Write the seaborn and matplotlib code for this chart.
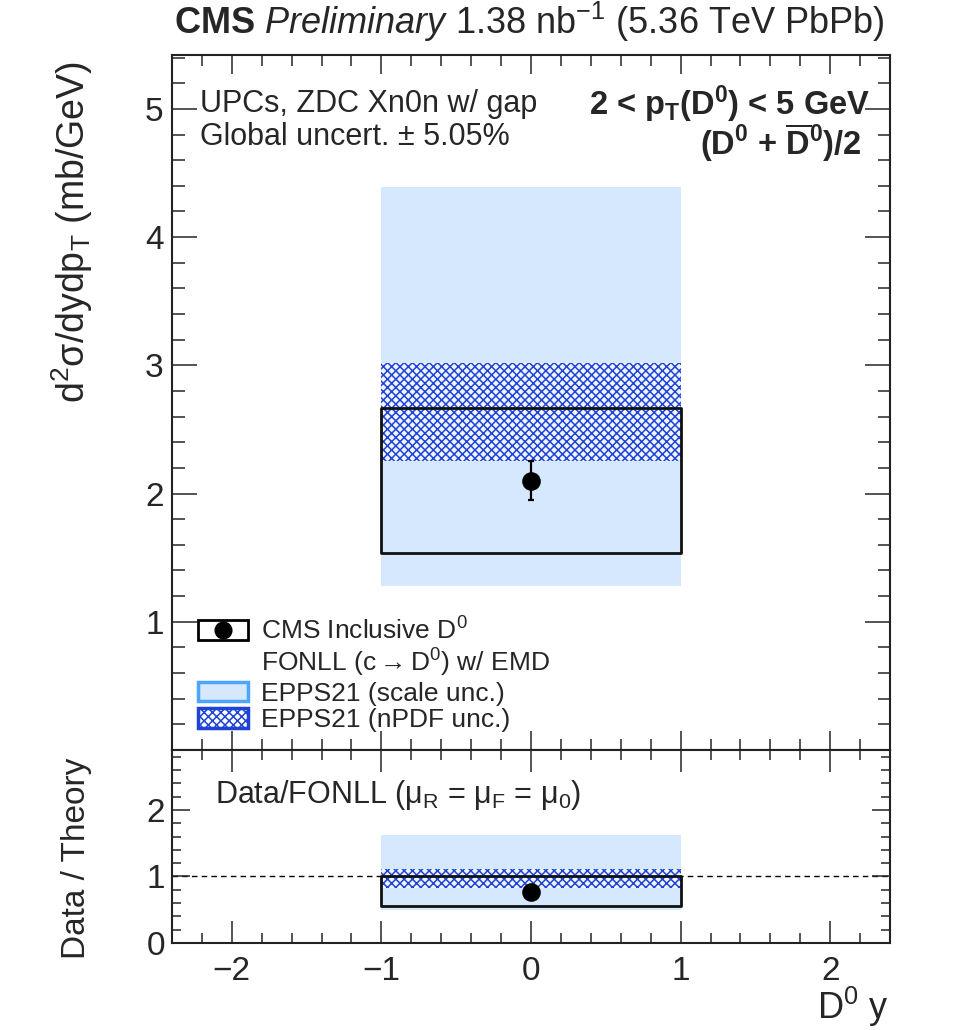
import matplotlib
matplotlib.use("Agg")
import matplotlib.pyplot as plt
import seaborn as sns
import pandas as pd
from matplotlib.patches import Patch
from matplotlib.lines import Line2D
from matplotlib.legend_handler import HandlerTuple
from matplotlib.ticker import MultipleLocator

# one rapidity bin, |y| < 1
bin_edges = [-1.0, 1.0]
bin_center = [0.0]

# upper panel: d2sigma/dydpT (mb/GeV)
xsec = [2.10]
xsec_stat = [0.15]
xsec_syst_lo = [1.54]
xsec_syst_hi = [2.67]
scale_lo = [1.28]
scale_hi = [4.39]
npdf_lo = [2.25]
npdf_hi = [3.02]

# lower panel: data / FONLL
ratio = [0.77]
ratio_stat = [0.06]
ratio_syst_lo = [0.56]
ratio_syst_hi = [1.00]
ratio_scale_lo = [0.49]
ratio_scale_hi = [1.63]
ratio_npdf_lo = [0.83]
ratio_npdf_hi = [1.11]

legend_labels = [r"CMS Inclusive D$^{0}$",
                 r"FONLL (c$\rightarrow$D$^{0}$) w/ EMD",
                 "EPPS21 (scale unc.)",
                 "EPPS21 (nPDF unc.)"]

scale_fill = "#d5e8fd"
scale_edge = "#4ca5ff"
hatch_col = "#1f43d6"

sns.set_theme(style="ticks")
plt.rcParams["font.family"] = ["Liberation Sans", "DejaVu Sans"]
plt.rcParams["mathtext.fontset"] = "custom"
plt.rcParams["mathtext.rm"] = "Liberation Sans"
plt.rcParams["mathtext.it"] = "Liberation Sans:italic"
plt.rcParams["mathtext.bf"] = "Liberation Sans:bold"
plt.rcParams["hatch.linewidth"] = 1.1
plt.rcParams["axes.linewidth"] = 1.5

W, H = 958, 1030
def fx(px):
    return px / W
def fy(py):
    return 1 - py / H

fig = plt.figure(figsize=(9.58, 10.3), dpi=100)
ax1 = fig.add_axes([fx(172), fy(750), (890 - 172) / W, (750 - 55) / H])
ax2 = fig.add_axes([fx(172), fy(943), (890 - 172) / W, (943 - 750) / H])


def draw_panel(ax, lo_s, hi_s, lo_n, hi_n, lo_b, hi_b, val, err):
    ax.fill_between(bin_edges, lo_s * 2, hi_s * 2, facecolor=scale_fill,
                    edgecolor="none", lw=0, zorder=1)
    ax.fill_between(bin_edges, lo_n * 2, hi_n * 2, facecolor="#eef5ff",
                    edgecolor=hatch_col, hatch="xxxx", lw=0, zorder=2)
    ax.fill_between(bin_edges, lo_b * 2, hi_b * 2, facecolor="none",
                    edgecolor="#111111", lw=2.0, zorder=3)
    ax.errorbar(bin_center, val, yerr=err, fmt="none", ecolor="black",
                elinewidth=1.6, capsize=2.5, capthick=1.6, zorder=4)
    df = pd.DataFrame({"y": bin_center, "v": val})
    sns.scatterplot(data=df, x="y", y="v", ax=ax, color="black", s=180,
                    marker="o", edgecolor="black", linewidth=0, zorder=5)
    ax.set_xlabel("")
    ax.set_ylabel("")


draw_panel(ax1, scale_lo, scale_hi, npdf_lo, npdf_hi,
           xsec_syst_lo, xsec_syst_hi, xsec, xsec_stat)
draw_panel(ax2, ratio_scale_lo, ratio_scale_hi, ratio_npdf_lo, ratio_npdf_hi,
           ratio_syst_lo, ratio_syst_hi, ratio, ratio_stat)
ax2.axhline(1.0, color="black", lw=1.0, ls=(0, (4, 3)), zorder=0.5)

for ax in (ax1, ax2):
    ax.set_xlim(-2.4, 2.4)
    ax.xaxis.set_major_locator(MultipleLocator(1))
    ax.xaxis.set_minor_locator(MultipleLocator(0.2))
    ax.yaxis.set_minor_locator(MultipleLocator(0.2))
    for s in ax.spines.values():
        s.set_visible(True)
        s.set_linewidth(1.5)
        s.set_color("#222222")

ax1.set_ylim(0, 5.42)
ax1.set_yticks([1, 2, 3, 4, 5])
ax1.tick_params(axis="x", which="major", direction="in", top=True, bottom=True,
                length=14, width=1.1, labelbottom=False)
ax1.tick_params(axis="x", which="minor", direction="in", top=True, bottom=True,
                length=8, width=1.1)
ax1.tick_params(axis="y", which="major", direction="in", left=True, right=True,
                length=18, width=1.1, labelsize=24, pad=6)
ax1.tick_params(axis="y", which="minor", direction="in", left=True, right=True,
                length=9, width=1.1)

ax2.set_ylim(0, 2.9)
ax2.set_yticks([0, 1, 2])
ax2.tick_params(axis="x", which="major", direction="in", top=True, bottom=True,
                length=16, width=1.1, labelsize=24, pad=9)
ax2.tick_params(axis="x", which="minor", direction="in", top=True, bottom=True,
                length=7, width=1.1)
ax2.tick_params(axis="y", which="major", direction="in", left=True, right=True,
                length=13, width=1.1, labelsize=24, pad=5)
ax2.tick_params(axis="y", which="minor", direction="in", left=True, right=True,
                length=6.5, width=1.1)
ax2.set_xticks([-2, -1, 0, 1, 2])
ax2.set_xticklabels(["\u22122", "\u22121", "0", "1", "2"])

# axis titles
fig.text(fx(72), fy(232), r"d$^{2}$σ/dydp$_{\mathrm{T}}$ (mb/GeV)", rotation=90,
         ha="center", va="center", fontsize=27)
fig.text(fx(77), fy(858), "Data / Theory", rotation=90,
         ha="center", va="center", fontsize=24)
fig.text(fx(888), fy(1007), r"D$^{0}$ y", ha="right", va="center", fontsize=26)

# header
fig.text(fx(885), fy(22),
         r"$\mathbf{CMS}$ $\mathit{Preliminary}$ 1.38 nb$^{\mathrm{-1}}$ (5.36 TeV PbPb)",
         ha="right", va="center", fontsize=26)

# annotations
fig.text(fx(200), fy(104), "UPCs, ZDC Xn0n w/ gap", ha="left", va="center",
         fontsize=22)
fig.text(fx(200), fy(137), "Global uncert. ± 5.05%", ha="left", va="center",
         fontsize=22)
fig.text(fx(870), fy(104), r"2 < p$_{\mathbf{T}}$(D$^{\mathbf{0}}$) < 5 GeV",
         ha="right", va="center", fontsize=23.5, fontweight="bold")
fig.text(fx(862), fy(143), r"(D$^{\mathbf{0}}$ + $\mathbf{\overline{D}^{0}}$)/2",
         ha="right", va="center", fontsize=23.5, fontweight="bold")
fig.text(fx(215), fy(795),
         r"Data/FONLL (μ$_{\mathrm{R}}$ = μ$_{\mathrm{F}}$ = μ$_{\mathrm{0}}$)",
         ha="left", va="center", fontsize=22)

# legend
h_data = (Patch(facecolor="white", edgecolor="black", linewidth=2),
          Line2D([], [], marker="o", color="black", ms=12, ls="none"))
h_fonll = Patch(facecolor="none", edgecolor="none")
h_scale = Patch(facecolor=scale_fill, edgecolor=scale_edge, linewidth=2.5)
h_npdf = Patch(facecolor="white", edgecolor=hatch_col, hatch="xxxx",
               linewidth=2.5)
ax1.legend([h_data, h_fonll, h_scale, h_npdf], legend_labels,
           handler_map={tuple: HandlerTuple(ndivide=1, pad=0)},
           loc="upper left", bbox_to_anchor=(fx(198), fy(617)),
           bbox_transform=fig.transFigure, frameon=False, fontsize=19,
           handlelength=1.9, handleheight=0.75, handletextpad=0.5,
           labelspacing=0.1, borderpad=0, borderaxespad=0)

fig.savefig("out.png", dpi=100)
